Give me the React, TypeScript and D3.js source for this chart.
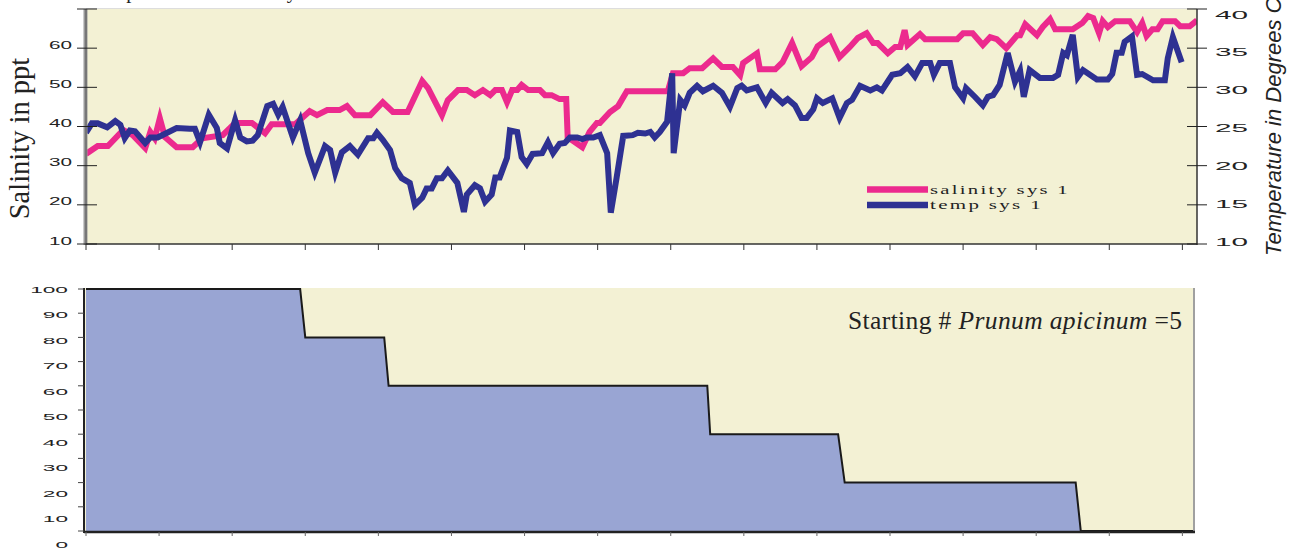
import React from "react";
import * as d3 from "d3";

// ---------- data ----------
const salDays = [0, 1.6, 3.0, 5.1, 6.4, 8.1, 8.8, 9.4, 10.1, 10.8, 12.4, 14.6, 15.9, 18.7, 20.4, 22.7, 24.5, 25.4, 28.6, 30.6, 31.6, 33.0, 34.7, 35.7, 36.8, 38.9, 40.6, 42.0, 44.0, 46.0, 46.8, 48.7, 49.5, 50.9, 52.1, 53.2, 54.3, 55.3, 56.0, 56.9, 57.6, 58.3, 59.0, 59.6, 60.5, 62.1, 62.8, 63.7, 64.8, 65.7, 65.9, 67.9, 68.9, 69.9, 70.3, 71.7, 72.8, 74.0, 79.6, 80.3, 81.7, 82.6, 84.3, 85.8, 87.0, 88.5, 89.5, 89.9, 90.8, 91.8, 92.2, 94.3, 95.3, 96.6, 97.9, 99.3, 100.1, 101.8, 103.1, 104.5, 105.6, 106.8, 107.7, 108.3, 109.7, 110.7, 111.4, 112.0, 112.4, 114.1, 114.8, 119.2, 120.0, 121.3, 122.7, 123.7, 124.6, 125.9, 127.4, 127.8, 128.5, 130.1, 130.9, 131.9, 132.6, 135.0, 136.3, 137.1, 137.8, 138.6, 139.1, 139.8, 140.8, 142.8, 143.8, 144.5, 145.1, 145.9, 146.6, 147.3, 149.0, 149.7, 151.0, 152.0];
const salVals = [33.0, 35, 35, 39.1, 37.8, 34.5, 38.6, 37, 42.1, 37.3, 34.7, 34.7, 37, 37.8, 40.9, 40.9, 38.3, 40.6, 40.6, 43.9, 42.9, 44.2, 44.2, 45.2, 42.9, 42.9, 46.2, 43.7, 43.7, 51.6, 49.8, 42.9, 46.7, 49.3, 49.3, 48.0, 49.3, 48.0, 49.3, 49.3, 46.2, 49.3, 49.3, 50.6, 49.3, 49.3, 48.0, 48.0, 47.0, 47.0, 37.3, 34.7, 38.6, 40.9, 40.9, 43.7, 45.2, 49.0, 49.0, 53.6, 53.6, 54.9, 54.9, 57.4, 55.2, 55.2, 53.1, 56.2, 57.4, 58.7, 54.6, 54.6, 56.4, 61.3, 55.4, 57.7, 60.5, 62.8, 57.7, 60.3, 62.6, 63.8, 61.3, 61.3, 58.7, 60.3, 60.3, 64.6, 60.8, 63.6, 62.3, 62.3, 63.8, 63.8, 60.8, 62.8, 62.3, 60.0, 63.3, 63.3, 66.1, 63.3, 65.4, 67.4, 64.8, 64.8, 66.4, 68.2, 67.7, 63.8, 66.9, 65.4, 66.9, 66.9, 64.1, 66.4, 63.1, 64.8, 64.8, 66.9, 66.9, 65.6, 65.6, 67.1];

const tempDays = [0, 0.8, 1.6, 2.9, 4.0, 4.7, 5.3, 6.0, 6.7, 8.1, 8.8, 9.8, 12.4, 14.2, 14.9, 15.6, 16.8, 17.9, 18.3, 19.3, 20.4, 21.1, 22.0, 22.8, 23.5, 24.8, 25.6, 26.3, 26.9, 28.3, 29.3, 30.4, 31.3, 32.7, 33.4, 34.1, 35.0, 36.1, 37.2, 38.6, 39.3, 39.8, 40.6, 41.6, 42.3, 43.2, 44.3, 45.0, 46.0, 46.6, 47.3, 48.0, 48.7, 49.5, 50.8, 51.7, 52.1, 53.2, 53.9, 54.6, 55.5, 56.0, 56.6, 57.6, 58.0, 59.0, 59.6, 60.3, 61.1, 62.4, 63.2, 63.9, 64.8, 65.5, 66.2, 67.2, 67.9, 68.5, 69.4, 70.3, 71.3, 71.8, 72.6, 73.5, 74.8, 75.5, 76.5, 77.2, 77.8, 78.5, 79.5, 80.2, 80.4, 81.3, 81.9, 82.6, 83.6, 84.4, 85.8, 87.0, 88.1, 89.1, 89.7, 90.4, 91.8, 93.0, 93.8, 95.3, 96.0, 97.0, 97.9, 98.6, 99.5, 100.0, 100.8, 102.1, 103.1, 104.1, 104.8, 105.9, 107.3, 108.2, 108.9, 110.3, 111.4, 112.4, 113.4, 114.4, 115.5, 116.0, 116.8, 118.2, 118.9, 120.0, 120.4, 121.6, 122.7, 123.4, 124.1, 125.0, 126.1, 127.1, 127.8, 128.3, 129.1, 130.5, 132.3, 133.0, 133.7, 134.2, 135.0, 135.7, 136.4, 138.3, 139.8, 140.4, 141.0, 141.7, 142.1, 143.1, 143.8, 144.5, 146.0, 147.6, 148.0, 148.7, 149.9];
const tempVals = [24.2, 25.4, 25.4, 24.9, 25.7, 25.2, 23.5, 24.5, 24.4, 22.9, 23.6, 23.6, 24.8, 24.7, 24.7, 23.0, 26.5, 24.8, 22.9, 22.2, 25.8, 23.6, 23.1, 23.2, 23.9, 27.6, 27.9, 26.5, 27.5, 23.6, 25.8, 21.6, 19.1, 22.5, 22.0, 19.1, 21.7, 22.5, 21.4, 23.5, 23.5, 24.2, 23.3, 22.0, 19.7, 18.4, 17.8, 15.0, 15.9, 17.1, 17.1, 18.4, 18.4, 19.4, 17.8, 14.1, 16.3, 17.5, 17.1, 15.4, 16.3, 18.5, 18.5, 21.0, 24.5, 24.3, 21.1, 20.2, 21.5, 21.6, 23.0, 21.6, 22.8, 22.9, 23.6, 23.6, 23.4, 23.6, 23.6, 23.9, 21.6, 14.0, 18.5, 23.8, 23.9, 24.2, 24.1, 24.3, 23.6, 24.3, 25.6, 31.8, 21.6, 28.4, 27.7, 29.3, 30.2, 29.5, 30.2, 29.3, 27.5, 29.9, 30.2, 29.6, 30.0, 28.0, 29.3, 28.0, 28.5, 27.7, 26.1, 26.1, 27.2, 28.6, 28.0, 28.6, 26.1, 28.0, 28.4, 30.2, 29.6, 30.0, 29.6, 31.6, 31.8, 32.6, 31.4, 33.1, 33.1, 31.6, 33.1, 33.1, 30.0, 28.6, 29.9, 28.8, 27.7, 28.8, 29.0, 30.3, 34.4, 30.7, 32.1, 28.8, 32.2, 31.2, 31.2, 31.6, 34.4, 34.1, 36.7, 31.3, 32.2, 31.0, 31.0, 31.7, 34.4, 34.4, 35.8, 36.5, 31.6, 31.7, 30.9, 30.9, 33.7, 36.4, 33.2];

const survDays = [0, 29.3, 30.0, 40.8, 41.4, 85.0, 85.4, 102.9, 103.8, 135.4, 136.1, 151.6];
const survPct = [100, 100, 80, 80, 60, 60, 40, 40, 20, 20, 0, 0];

const salTicks = [10, 20, 30, 40, 50, 60];
const tempTicks = [10, 15, 20, 25, 30, 35, 40];
const survTicks = [0, 10, 20, 30, 40, 50, 60, 70, 80, 90, 100];
const dayTicks = d3.range(0, 151, 10);

const legendLabels = ["salinity sys 1", "temp sys 1"];
const COLORS = { sal: "#EC2A8E", temp: "#2E3192", bg: "#F3F1D4", fill: "#99A5D3" };

export default function App() {
  // top chart scales
  const xTop = d3.scaleLinear().domain([0, 152]).range([86, 1197]);
  const ySal = d3.scaleLinear().domain([10, 70]).range([244, 9]);
  const yTemp = d3.scaleLinear().domain([10, 40]).range([244, 9]);
  const yTempLabel = d3.scaleLinear().domain([10, 40]).range([242, 14.5]);

  // bottom chart scales
  const xBot = d3.scaleLinear().domain([0, 152]).range([86, 1197]);
  const yBot = d3.scaleLinear().domain([0, 100]).range([531, 289]);
  const yBotLabel = d3.scaleLinear().domain([0, 100]).range([544, 289.5]);

  const salData = salDays.map((d, i) => [d, salVals[i]] as [number, number]);
  const tempData = tempDays.map((d, i) => [d, tempVals[i]] as [number, number]);
  const survData = survDays.map((d, i) => [d, survPct[i]] as [number, number]);

  const salLine = d3.line<[number, number]>().x((d) => xTop(d[0])).y((d) => ySal(d[1]));
  const tempLine = d3.line<[number, number]>().x((d) => xTop(d[0])).y((d) => yTemp(d[1]));
  const survArea = d3.area<[number, number]>().x((d) => xBot(d[0])).y0(yBot(0)).y1((d) => yBot(d[1]));
  const survLine = d3.line<[number, number]>().x((d) => xBot(d[0])).y((d) => yBot(d[1]));

  const numFont = "'Liberation Sans', Arial, sans-serif";
  const serif = "'Liberation Serif', 'Times New Roman', serif";

  return (
    <svg width={1293} height={548} style={{ position: "absolute", left: 0, top: 0, background: "#fff" }}>
      <defs>
        <clipPath id="topClip">
          <rect x={86} y={9} width={1111} height={235} />
        </clipPath>
      </defs>

      {/* cut-off title */}
      <text x={90} y={-2} fontFamily={serif} fontSize={20.5} fill="#222">Temperature and Salinity</text>

      {/* ---------- top chart ---------- */}
      <rect x={86} y={9} width={1111} height={235} fill={COLORS.bg} />
      <line x1={86} x2={1197} y1={8.5} y2={8.5} stroke="#ddd" strokeWidth={1} />
      <g clipPath="url(#topClip)">
        <path d={salLine(salData) || ""} fill="none" stroke={COLORS.sal} strokeWidth={6} strokeLinejoin="miter" strokeMiterlimit={4} />
        <path d={tempLine(tempData) || ""} fill="none" stroke={COLORS.temp} strokeWidth={6} strokeLinejoin="miter" strokeMiterlimit={4} />
      </g>
      {/* axes */}
      <line x1={85.5} x2={85.5} y1={9} y2={245} stroke="#9a9a9a" strokeWidth={4} />
      <line x1={86} x2={86} y1={9} y2={245} stroke="#555" strokeWidth={1} />
      <line x1={86} x2={1197} y1={244} y2={244} stroke="#333" strokeWidth={1.5} />
      <line x1={1197} x2={1197} y1={9} y2={245} stroke="#333" strokeWidth={1.5} />
      {salTicks.map((t) => (
        <g key={"sl" + t}>
          <line x1={77} x2={97} y1={ySal(t)} y2={ySal(t)} stroke="#222" strokeWidth={1} />
          <text x={72} y={ySal(t) + 0.5} textAnchor="end" fontFamily={numFont} fontSize={10} textLength={String(t).length * 11.5} lengthAdjust="spacingAndGlyphs" fill="#222">{t}</text>
        </g>
      ))}
      <line x1={77} x2={97} y1={ySal(70)} y2={ySal(70)} stroke="#222" strokeWidth={1} />
      {tempTicks.map((t) => (
        <g key={"tl" + t}>
          <line x1={1187} x2={1207} y1={yTemp(t)} y2={yTemp(t)} stroke="#222" strokeWidth={1} />
          <text x={1215} y={yTempLabel(t) + 4} textAnchor="start" fontFamily={numFont} fontSize={11.5} textLength={String(t).length * 16.5} lengthAdjust="spacingAndGlyphs" fill="#222">{t}</text>
        </g>
      ))}
      {dayTicks.map((t) => (
        <line key={"dt" + t} x1={xTop(t)} x2={xTop(t)} y1={244} y2={250} stroke="#333" strokeWidth={1} />
      ))}
      <text transform="translate(29,138.5) rotate(-90)" textAnchor="middle" fontFamily={serif} fontSize={28.5} fill="#222">Salinity in ppt</text>
      <text transform="translate(1281,256) rotate(-90)" textAnchor="start" fontFamily={numFont} fontStyle="italic" fontSize={22} fill="#222">Temperature in Degrees C</text>

      {/* legend */}
      {legendLabels.map((lab, i) => (
        <g key={lab}>
          <line x1={867} x2={928} y1={189.5 + i * 15.5} y2={189.5 + i * 15.5} stroke={i === 0 ? COLORS.sal : COLORS.temp} strokeWidth={6.5} />
          <text x={930} y={193.5 + i * 15.5} fontFamily={serif} fontSize={13.5} textLength={i === 0 ? 140 : 113} lengthAdjust="spacingAndGlyphs" letterSpacing={1.5} fill="#222">{lab}</text>
        </g>
      ))}

      {/* ---------- bottom chart ---------- */}
      <rect x={84} y={288} width={1110} height={243} fill={COLORS.bg} />
      <path d={survArea(survData) || ""} fill={COLORS.fill} />
      <path d={survLine(survData) || ""} fill="none" stroke="#1a1a1a" strokeWidth={2} />
      <line x1={1194} x2={1194} y1={288} y2={532} stroke="#a0a0a0" strokeWidth={2} />
      <line x1={84} x2={84} y1={288} y2={533} stroke="#222" strokeWidth={2} />
      <line x1={84} x2={1195} y1={532} y2={532} stroke="#222" strokeWidth={2.5} />
      {survTicks.map((t) => (
        <g key={"st" + t}>
          <line x1={78} x2={84} y1={yBot(t)} y2={yBot(t)} stroke="#444" strokeWidth={1} />
          <text x={68} y={yBotLabel(t) + 3.5} textAnchor="end" fontFamily={numFont} fontSize={9.5} textLength={String(t).length * 12.6} lengthAdjust="spacingAndGlyphs" fill="#222">{t}</text>
        </g>
      ))}
      {dayTicks.map((t) => (
        <line key={"bt" + t} x1={xBot(t)} x2={xBot(t)} y1={532} y2={536} stroke="#666" strokeWidth={1} />
      ))}
      <text x={1182} y={329} textAnchor="end" fontFamily={serif} fontSize={25.5} textLength={334} lengthAdjust="spacing" fill="#222">
        Starting # <tspan fontStyle="italic">Prunum apicinum</tspan> =5
      </text>
    </svg>
  );
}
